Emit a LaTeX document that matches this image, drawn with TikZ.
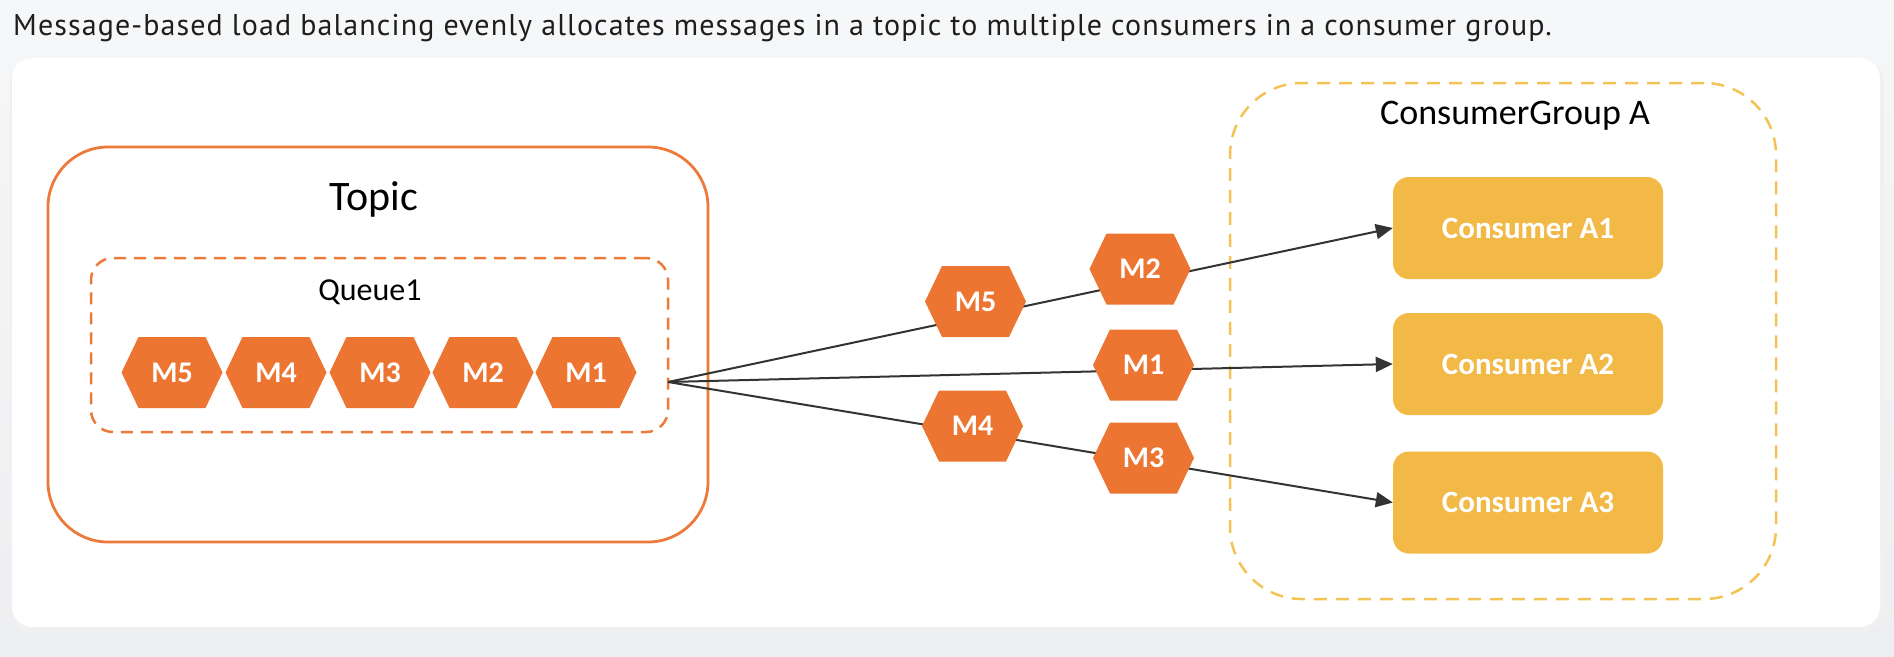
\documentclass[tikz,border=0pt]{standalone}
\usepackage{fontspec}
\setmainfont{Carlito}
\newfontfamily\capfont[LetterSpace=3.7]{PT Sans}
\usetikzlibrary{arrows.meta}
\definecolor{bgtop}{HTML}{F6F7F8}
\definecolor{bgbot}{HTML}{EDEEF1}
\definecolor{hexorange}{HTML}{EC7532}
\definecolor{topicorange}{HTML}{EC7A3A}
\definecolor{consyellow}{HTML}{F2B946}
\definecolor{groupyellow}{HTML}{F3C355}
\definecolor{linegray}{HTML}{333333}
\definecolor{captext}{HTML}{1E1E1E}
\tikzset{
  hex/.style={minimum width=101pt, minimum height=71pt, inner sep=0pt, text=white,
    font=\bfseries\fontsize{30}{36}\selectfont,
    path picture={\fill[hexorange] (path picture bounding box.west)
      -- ([xshift=17pt]path picture bounding box.north west)
      -- ([xshift=-17pt]path picture bounding box.north east)
      -- (path picture bounding box.east)
      -- ([xshift=-17pt]path picture bounding box.south east)
      -- ([xshift=17pt]path picture bounding box.south west) -- cycle;}},
  consbox/.style={fill=consyellow, rounded corners=16pt, minimum width=270pt, minimum height=102pt,
    inner sep=0pt, text=white, font=\bfseries\fontsize{31}{38}\selectfont},
  conn/.style={draw=linegray, line width=2pt, -{Triangle[length=17pt,width=15pt]}},
}
\begin{document}
\begin{tikzpicture}[x=1pt,y=-1pt]
\useasboundingbox (0,0) rectangle (1894,656);
\shade[top color=bgtop, bottom color=bgbot] (0,0) rectangle (1894,656);
% card shadow and card
\fill[black!6, rounded corners=22pt] (10,60) rectangle (1884,633);
\fill[white, rounded corners=20pt] (12,58) rectangle (1880,627);
% caption
\node[anchor=base west, inner sep=0pt, text=captext, font=\capfont\fontsize{30}{36}\selectfont] (caption) at (13,35)
  {Message-based load balancing evenly allocates messages in a topic to multiple consumers in a consumer group.};
% topic box
\node[draw=topicorange, line width=2.8pt, rounded corners=60pt, minimum width=660pt, minimum height=395pt] (topic) at (378,344.5) {};
\node[anchor=base, inner sep=0pt, font=\fontsize{42}{50}\selectfont] (topiclabel) at (374,210) {Topic};
\node[draw=topicorange, line width=2.5pt, dash pattern=on 12pt off 8pt, rounded corners=22pt, minimum width=577pt, minimum height=174pt] (queue) at (379.5,345) {};
\node[anchor=base, inner sep=0pt, font=\fontsize{32}{38}\selectfont] (queuelabel) at (370,300) {Queue1};
% queue messages
\node[hex] (q5) at (172,372.5) {M5};
\node[hex] (q4) at (276,372.5) {M4};
\node[hex] (q3) at (380,372.5) {M3};
\node[hex] (q2) at (483,372.5) {M2};
\node[hex] (q1) at (586,372.5) {M1};
% consumer group
\node[draw=groupyellow, line width=2.5pt, dash pattern=on 13pt off 9pt, rounded corners=72pt, minimum width=546pt, minimum height=516pt] (group) at (1503,341) {};
\node[anchor=base, inner sep=0pt, font=\fontsize{36}{42}\selectfont] (grouplabel) at (1515,124) {ConsumerGroup A};
\node[consbox] (A1) at (1528,228) {Consumer A1};
\node[consbox] (A2) at (1528,364) {Consumer A2};
\node[consbox] (A3) at (1528,502.5) {Consumer A3};
% connectors
\coordinate (src) at (668,382);
\draw[conn] (src) -- (A1.west);
\draw[conn] (src) -- (A2.west);
\draw[conn] (src) -- (A3.west);
% messages in flight
\node[hex] (m5) at (975.5,301.5) {M5};
\node[hex] (m2) at (1140,269) {M2};
\node[hex] (m1) at (1143.5,365) {M1};
\node[hex] (m4) at (972.5,426) {M4};
\node[hex] (m3) at (1143.5,458) {M3};
\end{tikzpicture}
\end{document}
